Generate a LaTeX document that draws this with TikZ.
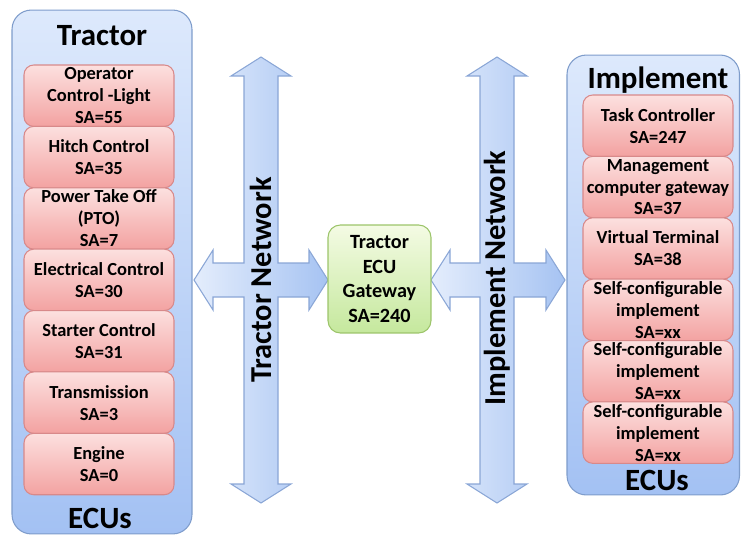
\documentclass[tikz,border=0pt]{standalone}
\usepackage{fontspec}
\setmainfont{Carlito}
\usetikzlibrary{positioning}
\definecolor{panelTop}{HTML}{DDE9FC}
\definecolor{panelBot}{HTML}{A3C1F3}
\definecolor{panelLine}{HTML}{7E9CCB}
\definecolor{ecuTop}{HTML}{FCE0DF}
\definecolor{ecuBot}{HTML}{F3A2A1}
\definecolor{ecuLine}{HTML}{D8898A}
\definecolor{gwTop}{HTML}{F4FBE4}
\definecolor{gwBot}{HTML}{C5E89D}
\definecolor{gwLine}{HTML}{9CC46A}
\definecolor{netLeft}{HTML}{E4EDFC}
\definecolor{netRight}{HTML}{A6C3F2}
\definecolor{netLine}{HTML}{8AA6D6}
\tikzset{
  panel/.style={draw=panelLine,line width=0.6pt,top color=panelTop,bottom color=panelBot,rounded corners=11pt,inner sep=0pt},
  ecu/.style={draw=ecuLine,line width=0.6pt,top color=ecuTop,bottom color=ecuBot,rounded corners=5.5pt,
    minimum width=3cm,minimum height=1.228cm,inner sep=0pt,outer sep=0pt,align=center,
    font=\fontsize{10.5}{12.5}\selectfont\bfseries},
  gateway/.style={draw=gwLine,line width=0.6pt,top color=gwTop,bottom color=gwBot,rounded corners=7pt,
    minimum width=2.06cm,minimum height=2.16cm,inner sep=0pt,align=center,
    font=\fontsize{11.5}{14}\selectfont\bfseries},
  heading/.style={font=\fontsize{17.6}{20}\selectfont\bfseries},
  netlabel/.style={rotate=90,font=\fontsize{17.3}{20}\selectfont\bfseries},
  netcross/.style={draw=netLine,line width=0.6pt,left color=netLeft,right color=netRight}
}
\begin{document}
\begin{tikzpicture}[x=0.02cm,y=-0.02cm]
\useasboundingbox (0,0) rectangle (741,538);
\node[panel,minimum width=3.6cm,minimum height=10.48cm] (trpanel) at (102,272) {};
\node[panel,minimum width=3.45cm,minimum height=8.8cm] (impanel) at (653.25,275) {};
\node[heading] (trtitle) at (102,36) {Tractor};
\node[heading] (trecus) at (100,518) {ECUs};
\node[heading] (imtitle) at (658,80) {Implement};
\node[heading] (imecus) at (657,480) {ECUs};
\node[ecu] (t1) at (99,95.7) {Operator\\Control -Light\\SA=55};
\foreach \txt [count=\i from 2] in {{Hitch Control\\SA=35},{Power Take Off\\(PTO)\\SA=7},
  {Electrical Control\\SA=30},{Starter Control\\SA=31},{Transmission\\SA=3},{Engine\\SA=0}}{
  \pgfmathtruncatemacro{\j}{\i-1}
  \node[ecu,below=0pt of t\j] (t\i) {\txt};
}
\node[ecu] (m1) at (658,125.7) {Task Controller\\SA=247};
\foreach \txt [count=\i from 2] in {{Management\\computer gateway\\SA=37},{Virtual Terminal\\SA=38},
  {Self-configurable\\implement\\SA=xx},{Self-configurable\\implement\\SA=xx},{Self-configurable\\implement\\SA=xx}}{
  \pgfmathtruncatemacro{\j}{\i-1}
  \node[ecu,below=0pt of m\j] (m\i) {\txt};
}
\foreach \cx/\L/\R in {261/194/328,497/431/565}{
  \shadedraw[netcross](\cx,57)--(\cx+30,76)--(\cx+17,76)--(\cx+17,263)--(\R-19,263)--(\R-19,250)--(\R,280)
    --(\R-19,310)--(\R-19,297)--(\cx+17,297)--(\cx+17,484)--(\cx+30,484)--(\cx,503)--(\cx-30,484)
    --(\cx-17,484)--(\cx-17,297)--(\L+19,297)--(\L+19,310)--(\L,280)--(\L+19,250)--(\L+19,263)
    --(\cx-17,263)--(\cx-17,76)--(\cx-30,76)--cycle;
}
\node[netlabel] (trnet) at (261,280) {Tractor Network};
\node[netlabel] (imnet) at (497,278) {Implement Network};
\node[gateway] (gw) at (379.5,279) {Tractor\\ECU\\Gateway\\SA=240};
\end{tikzpicture}
\end{document}
